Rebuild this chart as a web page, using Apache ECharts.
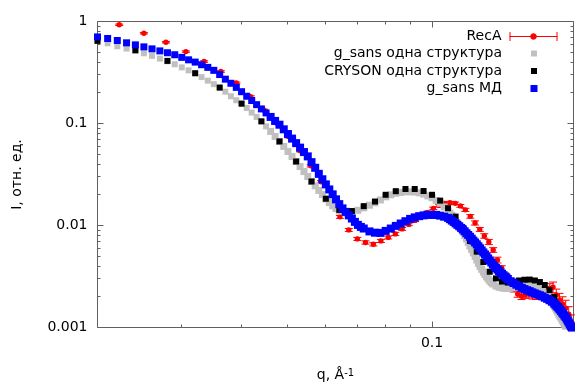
<!DOCTYPE html>
<html>
<head>
<meta charset="utf-8">
<script src="https://cdn.jsdelivr.net/npm/echarts@6/dist/echarts.min.js"></script>
<style>
  html, body { margin: 0; padding: 0; background: #fff; }
  #chart { width: 575px; height: 383px; }
</style>
</head>
<body>
<div id="chart"></div>
<script>
// [q, I, dI]
const recaData = [
  [0.0222, 0.928, 0.015], [0.0250, 0.767, 0.012], [0.0278, 0.626, 0.010], [0.0306, 0.507, 0.008],
  [0.0334, 0.405, 0.007], [0.0362, 0.323, 0.006], [0.0390, 0.250, 0.005], [0.0418, 0.183, 0.004],
  [0.0446, 0.135, 0.003], [0.0474, 0.1007, 0.0022], [0.0502, 0.0742, 0.0017], [0.0530, 0.0540, 0.0013],
  [0.0558, 0.0385, 0.0010], [0.0586, 0.0268, 0.0007], [0.0614, 0.0170, 0.0005], [0.0642, 0.01215, 0.0004],
  [0.0670, 0.00905, 0.0003], [0.0698, 0.00739, 0.00025], [0.0726, 0.00682, 0.00025], [0.0754, 0.00655, 0.00025],
  [0.0782, 0.00706, 0.00025], [0.0810, 0.00764, 0.00025], [0.0838, 0.00827, 0.0003], [0.0866, 0.00926, 0.0003],
  [0.0894, 0.01025, 0.0003], [0.0922, 0.01122, 0.0003], [0.0950, 0.01215, 0.0003], [0.0978, 0.01345, 0.0004],
  [0.1006, 0.01472, 0.0004], [0.1034, 0.01575, 0.0004], [0.1062, 0.01649, 0.0004], [0.1090, 0.01675, 0.0005],
  [0.1118, 0.01649, 0.0005], [0.1146, 0.01557, 0.0005], [0.1174, 0.01423, 0.0005], [0.1202, 0.01229, 0.0005],
  [0.1230, 0.01060, 0.0005], [0.1258, 0.00916, 0.0004], [0.1286, 0.00790, 0.0004], [0.1314, 0.00690, 0.0004],
  [0.1342, 0.00576, 0.0003], [0.1370, 0.00459, 0.0003], [0.1398, 0.00383, 0.0002], [0.1426, 0.00320, 0.0002],
  [0.1454, 0.00273, 0.0002], [0.1482, 0.00238, 0.00015], [0.1510, 0.00213, 0.00015], [0.1538, 0.00203, 0.00015],
  [0.1566, 0.00208, 0.00015], [0.1594, 0.00213, 0.00018], [0.1622, 0.00208, 0.00018], [0.1650, 0.00208, 0.0002],
  [0.1678, 0.00210, 0.0002], [0.1706, 0.00218, 0.00022], [0.1734, 0.00228, 0.00025], [0.1762, 0.00241, 0.00028],
  [0.1790, 0.00249, 0.0003], [0.1818, 0.00208, 0.0003], [0.1846, 0.00186, 0.0003], [0.1874, 0.00170, 0.0003],
  [0.1902, 0.00155, 0.0003], [0.1930, 0.00135, 0.00025], [0.1958, 0.00113, 0.0002]
];

// g_sans, одна структура
const gsansOneData = [
  [0.020, 0.651], [0.021, 0.612], [0.022, 0.572], [0.023, 0.543], [0.024, 0.515], [0.025, 0.488],
  [0.026, 0.460], [0.027, 0.433], [0.028, 0.407], [0.029, 0.381], [0.030, 0.355], [0.031, 0.332],
  [0.032, 0.311], [0.033, 0.285], [0.034, 0.263], [0.035, 0.243], [0.036, 0.225], [0.037, 0.205],
  [0.038, 0.185], [0.039, 0.169], [0.040, 0.157], [0.041, 0.142], [0.042, 0.128], [0.043, 0.116],
  [0.044, 0.105], [0.045, 0.0937], [0.046, 0.0836], [0.047, 0.0747], [0.048, 0.0667], [0.049, 0.0596],
  [0.050, 0.0532], [0.051, 0.0475], [0.052, 0.0424], [0.053, 0.0379], [0.054, 0.0338], [0.055, 0.0302],
  [0.056, 0.0270], [0.057, 0.0245], [0.058, 0.0221], [0.059, 0.0201], [0.060, 0.0182], [0.061, 0.0168],
  [0.062, 0.0156], [0.063, 0.01466], [0.064, 0.0139], [0.066, 0.0133], [0.068, 0.0134], [0.070, 0.0141],
  [0.072, 0.0149], [0.074, 0.0158], [0.076, 0.0167], [0.078, 0.0178], [0.080, 0.0191], [0.082, 0.0200],
  [0.084, 0.0207], [0.086, 0.0211], [0.088, 0.0214], [0.090, 0.0214], [0.092, 0.0213], [0.094, 0.0209],
  [0.096, 0.0203], [0.098, 0.0195], [0.100, 0.0187], [0.102, 0.0176], [0.104, 0.0165], [0.106, 0.0152],
  [0.108, 0.0139], [0.109, 0.01323], [0.110, 0.0126], [0.111, 0.01188], [0.112, 0.0112], [0.113, 0.01056],
  [0.114, 0.00991], [0.115, 0.00926], [0.116, 0.00865], [0.117, 0.00799], [0.118, 0.00739], [0.119, 0.00682],
  [0.120, 0.00630], [0.121, 0.00582], [0.122, 0.00538], [0.123, 0.00497], [0.124, 0.00459], [0.125, 0.00426],
  [0.126, 0.00396], [0.127, 0.00372], [0.128, 0.00350], [0.129, 0.00331], [0.130, 0.00313], [0.131, 0.00299],
  [0.132, 0.00286], [0.133, 0.00276], [0.134, 0.00267], [0.136, 0.00255], [0.138, 0.00248], [0.140, 0.00244],
  [0.142, 0.00242], [0.144, 0.00242], [0.146, 0.00244], [0.148, 0.00246], [0.150, 0.00249], [0.152, 0.00252],
  [0.154, 0.00255], [0.156, 0.00256], [0.158, 0.00256], [0.160, 0.00255], [0.162, 0.00252], [0.164, 0.00248],
  [0.166, 0.00242], [0.168, 0.00236], [0.170, 0.00228], [0.172, 0.00218], [0.174, 0.00206], [0.176, 0.00192],
  [0.178, 0.00178], [0.179, 0.00170], [0.180, 0.00162], [0.181, 0.00155], [0.182, 0.00148], [0.183, 0.00142],
  [0.184, 0.00135], [0.185, 0.00129], [0.186, 0.00124], [0.187, 0.00118], [0.188, 0.00113], [0.189, 0.00108],
  [0.190, 0.00103]
];

// CRYSON, одна структура
const crysonData = [
  [0.020, 0.646], [0.024, 0.523], [0.028, 0.411], [0.032, 0.311], [0.036, 0.225], [0.040, 0.1565],
  [0.044, 0.105], [0.048, 0.0667], [0.052, 0.0424], [0.056, 0.0270], [0.060, 0.0183], [0.064, 0.01423],
  [0.068, 0.01386], [0.072, 0.01548], [0.076, 0.01718], [0.080, 0.0200], [0.084, 0.0217], [0.088, 0.0228],
  [0.092, 0.0228], [0.096, 0.0218], [0.100, 0.0200], [0.104, 0.01753], [0.108, 0.01479], [0.112, 0.01223],
  [0.116, 0.00946], [0.120, 0.00706], [0.124, 0.00554], [0.128, 0.00439], [0.132, 0.00352], [0.136, 0.00303],
  [0.140, 0.00282], [0.144, 0.00276], [0.148, 0.00282], [0.152, 0.00289], [0.156, 0.00294], [0.160, 0.00295],
  [0.164, 0.00289], [0.168, 0.00279], [0.172, 0.00261], [0.176, 0.00233], [0.180, 0.00199], [0.184, 0.00162],
  [0.188, 0.00135], [0.192, 0.00114]
];

// g_sans, МД
const gsansMdData = [
  [0.020, 0.706], [0.021, 0.681], [0.022, 0.651], [0.023, 0.618], [0.024, 0.590], [0.025, 0.564],
  [0.026, 0.539], [0.027, 0.515], [0.028, 0.494], [0.029, 0.472], [0.030, 0.445], [0.031, 0.421],
  [0.032, 0.400], [0.033, 0.377], [0.034, 0.355], [0.035, 0.332], [0.036, 0.302], [0.037, 0.272],
  [0.038, 0.248], [0.039, 0.226], [0.040, 0.205], [0.041, 0.185], [0.042, 0.168], [0.043, 0.153],
  [0.044, 0.139], [0.045, 0.127], [0.046, 0.116], [0.047, 0.106], [0.048, 0.0973], [0.049, 0.0877],
  [0.050, 0.0788], [0.051, 0.0711], [0.052, 0.0642], [0.053, 0.0580], [0.054, 0.0525], [0.055, 0.0476],
  [0.056, 0.0418], [0.057, 0.0368], [0.058, 0.0321], [0.059, 0.0284], [0.060, 0.0253], [0.061, 0.02257],
  [0.062, 0.0202], [0.063, 0.01805], [0.064, 0.0162], [0.065, 0.01472], [0.066, 0.0136], [0.067, 0.01257],
  [0.068, 0.0117], [0.069, 0.01085], [0.070, 0.01014], [0.071, 0.00969], [0.072, 0.00934], [0.074, 0.00875],
  [0.076, 0.00850], [0.078, 0.00846], [0.080, 0.00885], [0.082, 0.00934], [0.084, 0.00991], [0.086, 0.01046],
  [0.088, 0.01102], [0.090, 0.01161], [0.092, 0.01201], [0.094, 0.01234], [0.096, 0.01257], [0.098, 0.01271],
  [0.100, 0.01271], [0.102, 0.01271], [0.104, 0.01248], [0.106, 0.01220], [0.108, 0.01188], [0.109, 0.01153],
  [0.110, 0.01117], [0.111, 0.01085], [0.112, 0.01049], [0.113, 0.01014], [0.114, 0.00982], [0.115, 0.00947],
  [0.116, 0.00914], [0.117, 0.00877], [0.118, 0.00840], [0.119, 0.00808], [0.120, 0.00776], [0.121, 0.00744],
  [0.122, 0.00711], [0.123, 0.00682], [0.124, 0.00654], [0.125, 0.00625], [0.126, 0.00597], [0.127, 0.00569],
  [0.128, 0.00544], [0.129, 0.00520], [0.130, 0.00496], [0.131, 0.00475], [0.132, 0.00454], [0.133, 0.00434],
  [0.134, 0.00415], [0.135, 0.00398], [0.136, 0.00383], [0.137, 0.00370], [0.138, 0.00358], [0.139, 0.00347],
  [0.140, 0.00336], [0.141, 0.00326], [0.142, 0.00316], [0.143, 0.00307], [0.144, 0.00299], [0.146, 0.00284],
  [0.148, 0.00273], [0.150, 0.00263], [0.152, 0.00254], [0.154, 0.00245], [0.156, 0.00238], [0.158, 0.00232],
  [0.160, 0.00227], [0.162, 0.00221], [0.164, 0.00216], [0.166, 0.00211], [0.168, 0.00207], [0.170, 0.00202],
  [0.172, 0.00196], [0.174, 0.00191], [0.176, 0.00185], [0.178, 0.00179], [0.180, 0.00172], [0.181, 0.00168],
  [0.182, 0.00163], [0.183, 0.00159], [0.184, 0.00154], [0.185, 0.00150], [0.186, 0.00145], [0.187, 0.00140],
  [0.188, 0.00136], [0.189, 0.00131], [0.190, 0.00127], [0.191, 0.00122], [0.192, 0.00117], [0.193, 0.00112],
  [0.194, 0.00107], [0.195, 0.00103], [0.196, 0.00100]
];

// tick marks
const xMajorTicks = [0.1];
const xMinorTicks = [0.03, 0.04, 0.05, 0.06, 0.07, 0.08, 0.09];
const yMajorTicks = [0.001, 0.01, 0.1, 1];
const yMinorTicks = [
  0.002, 0.003, 0.004, 0.005, 0.006, 0.007, 0.008, 0.009,
  0.02, 0.03, 0.04, 0.05, 0.06, 0.07, 0.08, 0.09,
  0.2, 0.3, 0.4, 0.5, 0.6, 0.7, 0.8, 0.9
];

const FONT = 'DejaVu Sans';
const AXIS_COLOR = '#606060';
const RED = '#ff0000';
const GRAY = '#c0c0c0';
const BLUE = '#0000ff';
const X_MIN = 0.02, X_MAX = 0.1975, Y_MIN = 0.001, Y_MAX = 1;

const NAMES = {
  reca: 'RecA',
  one: 'g_sans одна структура',
  cryson: 'CRYSON одна структура',
  md: 'g_sans МД'
};

function powerLabel(v) {
  const p = Math.log10(v);
  if (Math.abs(p - Math.round(p)) > 1e-6) return '';
  return String(Number(v.toPrecision(6)));
}

// the sparser part of the curves gets slightly larger squares so the band stays closed
function squareSize(small, big) {
  return (value) => (value[0] > 0.0455 ? big : small);
}

function renderTick(params, api) {
  const cs = params.coordSys;
  const kind = api.value(2);
  const len = kind % 2 === 1 ? 6 : 3;
  const style = { stroke: AXIS_COLOR, lineWidth: 1 };
  if (kind < 2) {
    const x = Math.floor(api.coord([api.value(0), Y_MIN])[0]) + 0.5;
    const b = cs.y + cs.height, t = cs.y;
    return {
      type: 'group',
      children: [
        { type: 'line', shape: { x1: x, y1: b, x2: x, y2: b - len }, style },
        { type: 'line', shape: { x1: x, y1: t, x2: x, y2: t + len }, style }
      ]
    };
  }
  const y = Math.floor(api.coord([X_MIN, api.value(1)])[1]) + 0.5;
  const l = cs.x, r = cs.x + cs.width;
  return {
    type: 'group',
    children: [
      { type: 'line', shape: { x1: l, y1: y, x2: l + len, y2: y }, style },
      { type: 'line', shape: { x1: r, y1: y, x2: r - len, y2: y }, style }
    ]
  };
}

function renderErrorPoint(params, api) {
  const q = api.value(0), v = api.value(1), e = api.value(2);
  const c = api.coord([q, v]);
  const hi = api.coord([q, v + e])[1];
  const lo = api.coord([q, v - e])[1];
  const x = c[0];
  const style = { stroke: RED, lineWidth: 1 };
  return {
    type: 'group',
    children: [
      { type: 'line', shape: { x1: x, y1: hi, x2: x, y2: lo }, style },
      { type: 'line', shape: { x1: x - 4, y1: hi, x2: x + 4, y2: hi }, style },
      { type: 'line', shape: { x1: x - 4, y1: lo, x2: x + 4, y2: lo }, style },
      { type: 'circle', shape: { cx: x, cy: c[1], r: 2.7 }, style: { fill: RED } }
    ]
  };
}

const tickData = []
  .concat(xMinorTicks.map((v) => [v, Y_MIN, 0]))
  .concat(xMajorTicks.map((v) => [v, Y_MIN, 1]))
  .concat(yMinorTicks.map((v) => [X_MIN, v, 2]))
  .concat(yMajorTicks.map((v) => [X_MIN, v, 3]));

function legendRow(name, top, icon, itemStyle) {
  return {
    right: 17,
    top: top,
    padding: 0,
    orient: 'horizontal',
    align: 'right',
    itemWidth: 51,
    itemHeight: 9,
    selectedMode: false,
    textStyle: { fontFamily: FONT, fontSize: 14, color: '#000' },
    data: [{ name: name, icon: icon, itemStyle: itemStyle }]
  };
}

const option = {
  animation: false,
  backgroundColor: '#fff',
  textStyle: { fontFamily: FONT },
  grid: {
    left: 97.5,
    right: 1.5,
    top: 21.5,
    bottom: 55.5,
    containLabel: false,
    outerBoundsMode: 'none',
    show: true,
    borderColor: AXIS_COLOR,
    borderWidth: 1,
    backgroundColor: 'transparent'
  },
  legend: [
    legendRow(NAMES.reca, 29.5,
      'path://M-3,4.5M0,4.5H48M0.5,0V9M47.5,0V9M26.8,4.5A2.8,2.8,0,1,1,21.2,4.5A2.8,2.8,0,1,1,26.8,4.5Z',
      { color: RED, borderColor: RED, borderWidth: 1 }),
    legendRow(NAMES.one, 46.5, 'path://M-3,0M48,9M21,1.5H27V7.5H21Z',
      { color: GRAY, borderWidth: 0 }),
    legendRow(NAMES.cryson, 64, 'path://M-3,0M48,9M21,1.5H27V7.5H21Z',
      { color: '#000', borderWidth: 0 }),
    legendRow(NAMES.md, 81.5, 'path://M-3,0M48,9M20.5,1H27.5V8H20.5Z',
      { color: BLUE, borderWidth: 0 })
  ],
  xAxis: {
    type: 'log',
    logBase: 10,
    min: X_MIN,
    max: X_MAX,
    name: '{a|q, Å}{b|-1}',
    nameLocation: 'middle',
    nameGap: 41,
    nameTextStyle: {
      rich: {
        a: { fontFamily: FONT, fontSize: 14, color: '#000' },
        b: { fontFamily: FONT, fontSize: 10, color: '#000', verticalAlign: 'top' }
      }
    },
    axisLine: { show: false },
    axisTick: { show: false },
    splitLine: { show: false },
    axisLabel: {
      margin: 9,
      fontFamily: FONT,
      fontSize: 14,
      color: '#000',
      formatter: powerLabel
    }
  },
  yAxis: {
    type: 'log',
    logBase: 10,
    min: Y_MIN,
    max: Y_MAX,
    name: 'I, отн. ед.',
    nameLocation: 'middle',
    nameGap: 73,
    nameTextStyle: { fontFamily: FONT, fontSize: 14, color: '#000' },
    axisLine: { show: false },
    axisTick: { show: false },
    splitLine: { show: false },
    axisLabel: {
      margin: 10,
      fontFamily: FONT,
      fontSize: 14,
      color: '#000',
      formatter: powerLabel
    }
  },
  series: [
    {
      name: 'ticks',
      type: 'custom',
      silent: true,
      clip: false,
      dimensions: ['x', 'y', 'kind'],
      encode: { x: 0, y: 1 },
      renderItem: renderTick,
      data: tickData
    },
    {
      name: NAMES.one,
      type: 'scatter',
      silent: true,
      symbol: 'rect',
      symbolSize: squareSize(6, 7),
      itemStyle: { color: GRAY, opacity: 1 },
      data: gsansOneData
    },
    {
      name: NAMES.cryson,
      type: 'scatter',
      silent: true,
      symbol: 'rect',
      symbolSize: 6,
      itemStyle: { color: '#000', opacity: 1 },
      data: crysonData
    },
    {
      name: NAMES.reca,
      type: 'custom',
      silent: true,
      dimensions: ['q', 'I', 'dI'],
      encode: { x: 0, y: 1 },
      itemStyle: { color: RED },
      renderItem: renderErrorPoint,
      data: recaData
    },
    {
      name: NAMES.md,
      type: 'scatter',
      silent: true,
      symbol: 'rect',
      symbolSize: squareSize(7, 8),
      itemStyle: { color: BLUE, opacity: 1 },
      data: gsansMdData
    }
  ]
};

const chart = echarts.init(document.getElementById('chart'), null, { renderer: 'canvas' });
chart.setOption(option);
</script>
</body>
</html>
